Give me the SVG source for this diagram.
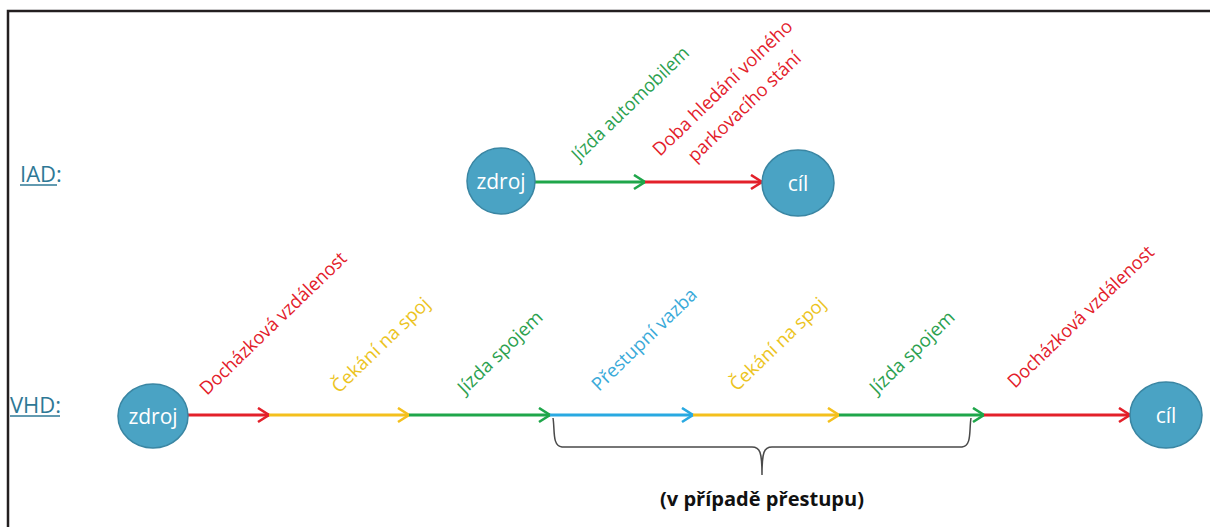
<svg xmlns="http://www.w3.org/2000/svg" width="1210" height="527" viewBox="0 0 1210 527">
<style>
.node{fill:#4aa3c4;stroke:#3a86a3;stroke-width:1.5}
.nt{font-family:"Open Sans","Liberation Sans",sans-serif;font-size:21px;fill:#ffffff;text-anchor:middle}
.lbl{font-family:"Open Sans","Liberation Sans",sans-serif;font-size:18.5px}
.hd{font-family:"Open Sans","Liberation Sans",sans-serif;font-size:22px;fill:#2e7896}
.red{stroke:#e3202a}
.grn{stroke:#1fa64a}
.yel{stroke:#f4c01c}
.blu{stroke:#29a9e1}
.seg{stroke-width:3;fill:none}
</style>
<defs>
<marker id="aR" markerUnits="userSpaceOnUse" markerWidth="16" markerHeight="18" refX="13" refY="8" orient="auto"><path d="M2,1 L13,8 L2,15" fill="none" stroke="#e3202a" stroke-width="2.6"/></marker>
<marker id="aG" markerUnits="userSpaceOnUse" markerWidth="16" markerHeight="18" refX="13" refY="8" orient="auto"><path d="M2,1 L13,8 L2,15" fill="none" stroke="#1fa64a" stroke-width="2.6"/></marker>
<marker id="aY" markerUnits="userSpaceOnUse" markerWidth="16" markerHeight="18" refX="13" refY="8" orient="auto"><path d="M2,1 L13,8 L2,15" fill="none" stroke="#f4c01c" stroke-width="2.6"/></marker>
<marker id="aB" markerUnits="userSpaceOnUse" markerWidth="16" markerHeight="18" refX="13" refY="8" orient="auto"><path d="M2,1 L13,8 L2,15" fill="none" stroke="#29a9e1" stroke-width="2.6"/></marker>
</defs>
<rect width="1210" height="527" fill="#ffffff"/>
<path d="M8,540 L8,11 L1220,11" fill="none" stroke="#231f20" stroke-width="2.5"/>

<g id="row-labels">
<text class="hd" x="20" y="182">IAD:</text>
<line x1="20" y1="185" x2="57" y2="185" stroke="#2e7896" stroke-width="1.5"/>
<text class="hd" x="10" y="413">VHD:</text>
<line x1="10" y1="416" x2="60" y2="416" stroke="#2e7896" stroke-width="1.5"/>
</g>

<g id="connectors">
<line class="seg grn" x1="535" y1="182" x2="645" y2="182" marker-end="url(#aG)"/>
<line class="seg red" x1="645" y1="182" x2="762" y2="182" marker-end="url(#aR)"/>
<line class="seg red" x1="188" y1="415" x2="269" y2="415" marker-end="url(#aR)"/>
<line class="seg yel" x1="269" y1="415" x2="409" y2="415" marker-end="url(#aY)"/>
<line class="seg grn" x1="409" y1="415" x2="550" y2="415" marker-end="url(#aG)"/>
<line class="seg blu" x1="550" y1="415" x2="693" y2="415" marker-end="url(#aB)"/>
<line class="seg yel" x1="693" y1="415" x2="839" y2="415" marker-end="url(#aY)"/>
<line class="seg grn" x1="839" y1="415" x2="984" y2="415" marker-end="url(#aG)"/>
<line class="seg red" x1="984" y1="415" x2="1130" y2="415" marker-end="url(#aR)"/>
</g>

<g id="edge-labels">
<text class="lbl" fill="#2ca14f" transform="translate(579,162) rotate(-44)" textLength="155" lengthAdjust="spacingAndGlyphs">Jízda automobilem</text>
<text class="lbl" fill="#e3202a" transform="translate(660,157) rotate(-44)" textLength="186" lengthAdjust="spacingAndGlyphs">Doba hledání volného</text>
<text class="lbl" fill="#e3202a" transform="translate(695,163) rotate(-44)" textLength="149" lengthAdjust="spacingAndGlyphs">parkovacího stání</text>
<text class="lbl" fill="#e3202a" transform="translate(207,396) rotate(-44)" textLength="196" lengthAdjust="spacingAndGlyphs">Docházková vzdálenost</text>
<text class="lbl" fill="#ecc41e" transform="translate(339,394) rotate(-44)" textLength="128" lengthAdjust="spacingAndGlyphs">Čekání na spoj</text>
<text class="lbl" fill="#2ca14f" transform="translate(465,395) rotate(-44)" textLength="110" lengthAdjust="spacingAndGlyphs">Jízda spojem</text>
<text class="lbl" fill="#3aaad9" transform="translate(599,392) rotate(-44)" textLength="138" lengthAdjust="spacingAndGlyphs">Přestupní vazba</text>
<text class="lbl" fill="#ecc41e" transform="translate(737,392) rotate(-44)" textLength="125" lengthAdjust="spacingAndGlyphs">Čekání na spoj</text>
<text class="lbl" fill="#2ca14f" transform="translate(877,395) rotate(-44)" textLength="110" lengthAdjust="spacingAndGlyphs">Jízda spojem</text>
<text class="lbl" fill="#e3202a" transform="translate(1015,389) rotate(-44)" textLength="195" lengthAdjust="spacingAndGlyphs">Docházková vzdálenost</text>
</g>

<g id="iad-zdroj"><ellipse class="node" cx="501" cy="181" rx="34" ry="33"/><text class="nt" x="501" y="189">zdroj</text></g>
<g id="iad-cil"><ellipse class="node" cx="798" cy="183" rx="36" ry="33"/><text class="nt" x="798" y="191">cíl</text></g>
<g id="vhd-zdroj"><ellipse class="node" cx="153" cy="416" rx="35" ry="32"/><text class="nt" x="153" y="424">zdroj</text></g>
<g id="vhd-cil"><ellipse class="node" cx="1166" cy="415" rx="36" ry="33"/><text class="nt" x="1166" y="423">cíl</text></g>

<g id="brace">
<path d="M553,418 C555,430 552,446 562,447 L752,447 C760,447 762,452 762,475 C762,452 764,447 772,447 L962,447 C972,446 969,430 971,418" fill="none" stroke="#4a4a4a" stroke-width="1.5"/>
<text x="762" y="506" text-anchor="middle" font-family="Open Sans, Liberation Sans, sans-serif" font-weight="bold" font-size="19" fill="#111111" textLength="204" lengthAdjust="spacingAndGlyphs">(v případě přestupu)</text>
</g>
</svg>
